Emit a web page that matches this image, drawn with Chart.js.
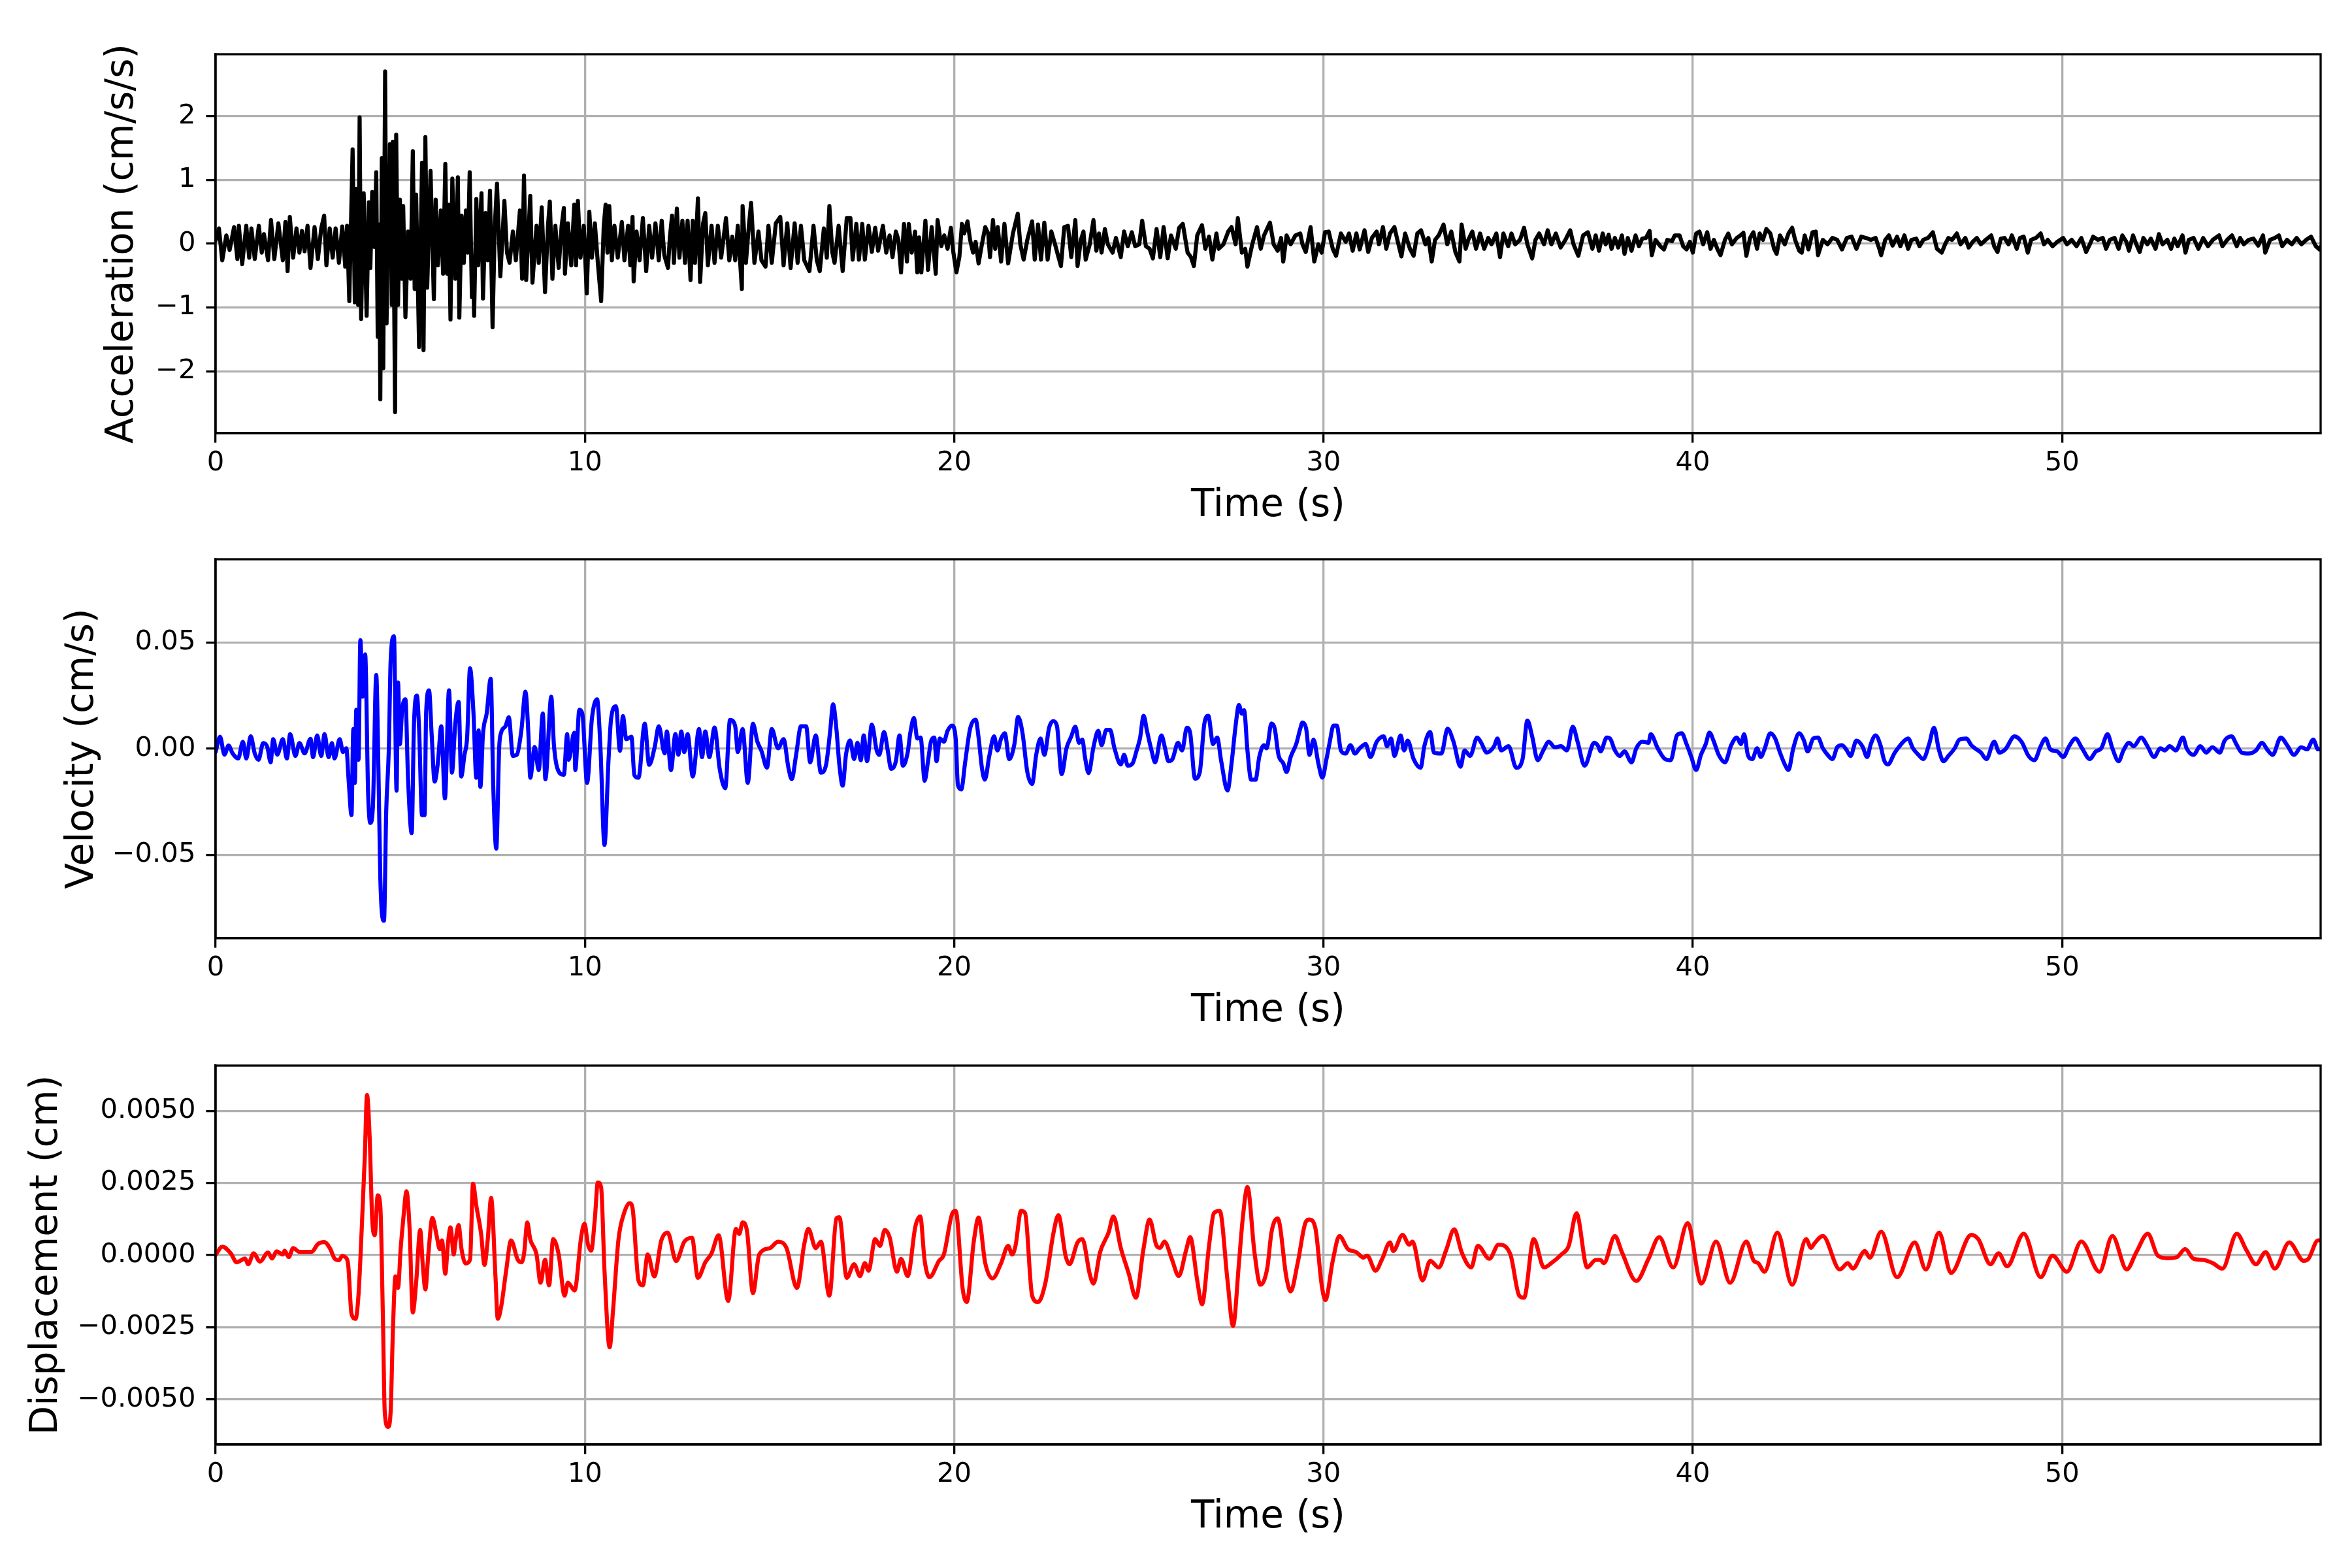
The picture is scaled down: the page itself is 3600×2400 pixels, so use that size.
<!DOCTYPE html>
<html>
<head>
<meta charset="utf-8">
<script src="https://cdn.jsdelivr.net/npm/chart.js@4.4.1/dist/chart.umd.min.js"></script>
<style>
  html, body { margin: 0; padding: 0; background: #fff; }
  body { width: 3600px; height: 2400px; position: relative; overflow: hidden; }
  canvas { position: absolute; left: 0; }
</style>
</head>
<body>
<canvas id="acc" width="3600" height="830" style="top:0px"></canvas>
<canvas id="vel" width="3600" height="830" style="top:773px"></canvas>
<canvas id="disp" width="3600" height="830" style="top:1548px"></canvas>
<script>
// --- DATA ([time s, value]) ---

const TIME_MAX = 57;
const TIME_STEP = 10;

// acceleration, cm/s/s
const accelerationTrace = [
  [0.00,0.05],[0.09,0.24],[0.18,-0.26],[0.29,0.13],[0.38,-0.10],[0.50,0.26],[0.59,-0.24],[0.63,0.28],[0.72,-0.32],[0.83,0.28],
  [0.91,-0.22],[0.97,0.24],[1.06,-0.24],[1.17,0.28],[1.25,-0.14],[1.31,0.15],[1.42,-0.26],[1.50,0.37],[1.59,-0.24],[1.70,0.32],
  [1.82,-0.26],[1.89,0.34],[1.95,-0.43],[2.01,0.42],[2.10,-0.22],[2.19,0.24],[2.27,-0.14],[2.34,0.20],[2.41,-0.12],[2.49,0.28],
  [2.57,-0.38],[2.68,0.26],[2.77,-0.24],[2.86,0.24],[2.94,0.44],[3.00,-0.34],[3.09,0.24],[3.17,-0.22],[3.25,0.24],[3.34,-0.30],
  [3.43,0.27],[3.51,-0.36],[3.56,0.28],[3.62,-0.90],[3.71,1.48],[3.77,-0.92],[3.81,0.86],[3.86,-0.96],[3.90,1.98],[3.94,-1.18],
  [4.01,0.79],[4.09,-1.13],[4.15,0.65],[4.19,-0.38],[4.24,0.81],[4.30,-0.05],[4.35,1.12],[4.39,-1.46],[4.43,0.30],[4.46,-2.44],
  [4.50,1.34],[4.54,-1.95],[4.59,2.70],[4.63,-1.25],[4.68,1.21],[4.70,0.20],[4.72,1.56],[4.77,-0.96],[4.80,1.60],[4.86,-2.64],
  [4.89,1.71],[4.94,-0.96],[4.99,0.69],[5.04,-0.55],[5.08,0.59],[5.14,-1.15],[5.21,0.19],[5.28,-0.55],[5.34,1.45],[5.39,-0.71],
  [5.43,0.77],[5.51,-1.62],[5.56,0.28],[5.59,1.27],[5.63,-1.67],[5.68,1.67],[5.73,-0.69],[5.82,1.14],[5.91,-0.87],[5.96,0.69],
  [6.02,-0.34],[6.10,0.52],[6.16,-0.47],[6.22,1.25],[6.27,-0.47],[6.31,0.61],[6.36,-1.19],[6.41,1.02],[6.49,-0.55],[6.56,1.04],
  [6.60,-1.16],[6.66,0.44],[6.72,-0.30],[6.78,0.52],[6.83,-0.14],[6.88,1.12],[6.94,-0.84],[6.97,-0.20],[7.00,-1.13],[7.06,0.70],
  [7.11,-0.34],[7.20,0.79],[7.24,-0.86],[7.31,0.48],[7.37,-0.26],[7.43,0.83],[7.50,-1.31],[7.56,0.28],[7.62,0.94],[7.71,-0.51],
  [7.82,0.67],[7.89,-0.14],[7.96,-0.30],[8.05,0.19],[8.13,-0.26],[8.24,0.52],[8.30,-0.55],[8.35,1.07],[8.41,-0.57],[8.52,0.75],
  [8.58,-0.61],[8.69,0.28],[8.75,-0.30],[8.83,0.57],[8.92,-0.76],[9.00,0.28],[9.05,0.66],[9.12,-0.55],[9.20,0.28],[9.29,-0.38],
  [9.37,0.28],[9.43,0.56],[9.46,-0.47],[9.54,0.32],[9.63,-0.34],[9.71,0.61],[9.76,-0.34],[9.81,0.67],[9.88,-0.22],[9.97,0.28],
  [10.05,-0.78],[10.12,0.50],[10.19,-0.22],[10.27,0.32],[10.35,-0.30],[10.44,-0.90],[10.51,0.28],[10.56,0.61],[10.61,-0.14],[10.66,0.59],
  [10.73,-0.26],[10.80,0.28],[10.89,-0.22],[11.00,0.34],[11.07,-0.26],[11.17,0.28],[11.23,-0.34],[11.29,0.42],[11.32,-0.59],[11.40,0.19],
  [11.48,-0.26],[11.57,0.40],[11.66,-0.43],[11.74,0.28],[11.82,-0.22],[11.91,0.32],[12.00,-0.26],[12.08,0.36],[12.15,-0.18],[12.25,-0.38],
  [12.30,0.10],[12.36,0.44],[12.41,-0.30],[12.49,0.55],[12.56,-0.22],[12.64,0.36],[12.71,-0.30],[12.78,0.36],[12.86,-0.57],[12.92,0.36],
  [12.98,-0.30],[13.06,0.71],[13.12,-0.60],[13.20,0.32],[13.26,0.48],[13.33,-0.34],[13.43,0.28],[13.51,-0.30],[13.60,0.28],[13.69,-0.22],
  [13.82,0.40],[13.91,-0.26],[13.99,0.11],[14.07,-0.26],[14.14,0.28],[14.25,-0.71],[14.27,0.59],[14.36,-0.30],[14.44,0.28],[14.50,0.64],
  [14.59,-0.30],[14.70,0.19],[14.78,-0.26],[14.89,-0.36],[14.97,0.28],[15.06,-0.30],[15.17,0.32],[15.29,0.42],[15.38,-0.34],[15.48,0.32],
  [15.57,-0.38],[15.68,0.32],[15.76,-0.30],[15.85,0.28],[15.94,-0.26],[16.08,-0.43],[16.19,0.28],[16.28,-0.26],[16.36,-0.43],[16.47,0.24],
  [16.55,-0.22],[16.62,0.59],[16.70,-0.14],[16.76,-0.30],[16.87,0.28],[16.98,-0.43],[17.09,0.40],
  [17.19,0.40],[17.25,-0.25],[17.35,0.31],[17.42,-0.25],[17.51,0.31],[17.58,-0.25],[17.68,0.28],[17.77,-0.13],[17.86,0.25],[17.94,-0.11],
  [18.07,0.28],[18.16,-0.14],[18.25,0.13],[18.33,-0.21],[18.42,0.19],[18.49,0.06],[18.56,-0.45],[18.64,0.31],[18.72,-0.28],[18.77,0.31],
  [18.85,-0.14],[18.94,0.19],[19.00,-0.45],[19.05,0.10],[19.11,-0.45],[19.22,0.36],[19.29,-0.41],[19.39,0.26],[19.50,-0.47],[19.55,0.37],
  [19.65,-0.04],[19.73,0.13],[19.82,-0.08],[19.91,0.25],[19.97,-0.11],
  [20.06,-0.45],[20.14,-0.21],[20.21,0.31],[20.27,0.16],[20.36,0.35],[20.43,0.06],[20.51,-0.14],[20.58,0.03],[20.66,-0.31],[20.75,-0.01],
  [20.84,0.26],[20.92,0.16],[20.97,-0.21],[21.05,0.37],[21.11,-0.08],[21.18,0.26],[21.27,-0.28],[21.36,0.31],[21.46,-0.31],[21.59,0.16],
  [21.72,0.47],[21.79,-0.01],[21.88,-0.25],[21.98,0.06],[22.11,0.35],[22.18,-0.25],[22.27,0.30],[22.35,-0.25],[22.44,0.33],[22.53,-0.25],
  [22.63,0.19],[22.73,-0.01],[22.79,-0.14],[22.89,-0.35],[22.98,0.26],[23.08,0.28],[23.17,-0.21],[23.28,0.37],[23.34,-0.35],[23.43,0.06],
  [23.50,0.19],[23.56,-0.25],[23.67,-0.01],[23.77,0.37],[23.85,-0.11],[23.92,0.16],[23.99,-0.14],[24.08,0.23],[24.16,-0.01],[24.29,-0.14],
  [24.38,0.09],[24.51,-0.21],[24.60,0.19],[24.70,-0.04],[24.81,0.18],[24.90,-0.04],[25.01,-0.01],[25.09,0.36],[25.19,-0.04],[25.29,-0.08],
  [25.38,-0.23],[25.48,0.23],[25.58,-0.21],[25.67,0.26],[25.78,-0.23],[25.87,0.13],[26.00,-0.08],[26.09,0.25],[26.19,0.31],[26.32,-0.14],
  [26.41,-0.21],[26.49,-0.35],[26.58,0.13],[26.71,0.29],[26.80,-0.08],[26.90,0.11],[26.99,-0.25],[27.10,0.16],[27.16,-0.08],[27.29,-0.01],
  [27.42,0.19],[27.51,0.26],[27.62,-0.01],[27.68,0.40],[27.79,-0.14],[27.88,-0.08],[27.94,-0.36],[28.07,-0.01],[28.20,0.26],[28.30,-0.08],
  [28.39,0.13],[28.55,0.33],[28.65,-0.01],[28.76,-0.11],[28.85,0.09],[28.91,-0.28],[29.00,0.13],[29.11,-0.01],[29.24,0.13],[29.37,0.16],
  [29.43,-0.01],[29.52,-0.13],[29.65,0.26],[29.75,-0.28],[29.86,-0.01],[29.95,-0.14],[30.04,0.18],[30.14,0.19],[30.25,-0.08],[30.34,-0.19],
  [30.47,0.16],[30.60,0.03],[30.69,0.16],[30.79,-0.11],[30.89,0.16],[30.98,-0.09],[31.11,0.21],[31.21,-0.13],[31.31,0.09],[31.44,0.19],
  [31.50,-0.01],[31.61,0.26],[31.70,-0.08],[31.80,0.16],[31.92,0.26],[32.02,0.01],[32.11,-0.20],[32.21,0.16],[32.34,-0.08],[32.44,-0.19],
  [32.54,0.16],[32.64,0.21],[32.76,-0.01],[32.84,0.09],[32.93,-0.28],[33.02,0.06],[33.12,0.13],[33.25,0.30],[33.35,-0.01],[33.46,0.19],
  [33.57,-0.13],[33.68,-0.28],[33.74,0.30],[33.85,-0.08],[33.92,0.06],[34.03,0.19],[34.13,-0.08],[34.24,0.16],[34.35,-0.08],[34.46,0.09],
  [34.55,-0.01],[34.68,0.16],[34.78,-0.21],[34.87,0.16],[35.00,-0.04],[35.09,0.16],[35.19,-0.01],[35.32,0.06],[35.43,0.25],[35.52,-0.01],
  [35.65,-0.23],[35.74,0.06],[35.84,0.16],[35.97,-0.01],[36.07,0.21],[36.17,-0.01],[36.29,0.16],[36.42,-0.06],[36.55,0.06],[36.68,0.21],
  [36.77,-0.01],[36.90,-0.19],[37.03,0.13],[37.16,0.18],
  [37.28,-0.08],[37.37,0.13],[37.46,-0.11],[37.56,0.16],[37.64,-0.01],[37.72,0.14],[37.80,-0.08],[37.89,0.09],[37.98,-0.06],[38.08,0.13],
  [38.15,-0.16],[38.24,0.09],[38.34,-0.11],[38.45,0.13],[38.54,-0.04],[38.63,0.08],[38.73,0.09],[38.83,0.20],[38.89,-0.18],[38.99,0.06],
  [39.12,-0.04],[39.22,-0.09],[39.31,0.06],[39.44,0.04],[39.51,0.13],[39.64,0.13],[39.74,-0.04],[39.83,-0.09],[39.92,0.03],[40.00,-0.14],
  [40.09,0.16],[40.18,0.19],[40.28,-0.01],[40.39,0.18],[40.48,-0.08],[40.57,0.06],[40.67,-0.09],[40.75,-0.18],[40.87,0.06],[40.96,0.16],
  [41.06,-0.01],[41.19,0.09],[41.29,0.13],[41.37,0.17],[41.45,-0.19],[41.55,0.09],[41.64,0.18],[41.74,-0.08],[41.81,0.16],[41.90,0.06],
  [41.99,0.23],[42.10,0.16],[42.20,-0.08],[42.27,-0.16],[42.36,0.13],[42.49,-0.01],[42.59,0.16],[42.69,0.25],[42.77,0.06],[42.88,-0.11],
  [42.95,-0.14],[43.03,0.13],[43.13,-0.09],[43.24,0.18],[43.33,0.19],[43.39,-0.18],[43.52,0.06],[43.65,-0.01],[43.78,0.09],[43.91,0.06],
  [44.04,-0.09],[44.17,0.09],[44.30,0.11],[44.43,-0.08],[44.56,0.11],[44.69,0.09],[44.82,0.06],[44.95,0.09],[45.05,-0.08],[45.10,-0.18],
  [45.21,0.06],[45.31,0.13],[45.41,-0.03],[45.53,0.11],[45.62,-0.04],[45.73,0.13],[45.83,-0.08],[45.92,0.06],[46.05,0.08],[46.14,-0.04],
  [46.24,0.06],[46.37,0.09],[46.50,0.18],[46.61,-0.08],[46.74,-0.14],[46.83,-0.01],[46.92,0.09],[47.02,0.06],[47.15,0.16],[47.25,-0.01],
  [47.38,0.09],[47.47,-0.06],[47.58,0.03],[47.69,0.09],[47.80,-0.01],[47.93,0.06],[48.08,0.13],[48.16,-0.04],[48.25,-0.13],[48.34,0.08],
  [48.44,0.09],[48.55,-0.01],[48.64,0.13],[48.77,-0.08],[48.86,0.09],[48.96,0.11],[49.07,-0.14],[49.16,0.06],[49.29,0.09],[49.42,0.16],
  [49.51,-0.01],[49.61,0.06],[49.74,-0.04],[49.87,0.03],[50.03,0.09],[50.13,-0.01],[50.26,0.06],[50.39,-0.04],[50.52,0.09],[50.65,-0.13],
  [50.75,-0.01],[50.84,0.11],[50.97,0.06],[51.10,0.09],[51.19,-0.08],[51.29,0.06],[51.42,0.09],[51.53,-0.08],[51.63,0.13],[51.74,0.03],
  [51.81,-0.11],[51.92,0.13],[52.01,-0.01],[52.10,-0.13],[52.20,0.09],[52.31,-0.01],[52.40,0.08],[52.53,-0.08],[52.62,0.15],[52.72,-0.01],
  [52.85,0.06],[52.95,-0.08],[53.04,0.08],[53.13,-0.04],[53.26,0.13],[53.34,-0.14],[53.43,0.06],[53.56,0.09],[53.69,-0.08],[53.82,0.09],
  [53.95,-0.04],[54.08,0.06],[54.25,0.13],[54.34,-0.04],[54.47,0.06],[54.60,0.13],[54.73,-0.04],[54.82,0.09],[54.92,-0.01],[55.05,0.06],
  [55.18,0.08],[55.31,-0.03],[55.44,0.13],[55.50,-0.14],[55.63,0.06],[55.76,0.09],[55.87,0.13],[55.96,-0.04],[56.09,0.06],[56.22,-0.01],
  [56.35,0.09],[56.48,-0.01],[56.61,0.06],[56.74,0.11],[56.87,-0.04],[56.97,-0.09],[57.00,-0.05]
];

// velocity, cm/s
const velocityTrace = [
  [0.00,-0.0016],[0.12,0.0057],[0.24,-0.0028],[0.35,0.0015],[0.46,-0.0022],[0.61,-0.0046],[0.74,0.0033],[0.83,-0.0046],[0.95,0.0059],[1.06,-0.0022],
  [1.16,-0.0052],[1.29,0.0027],[1.40,0.0008],[1.49,-0.0064],[1.56,0.0045],[1.67,-0.0028],[1.82,0.0045],[1.93,-0.0046],[2.02,0.0069],[2.16,-0.0034],
  [2.27,0.0027],[2.41,-0.0022],[2.57,0.0047],[2.64,-0.0040],[2.75,0.0063],[2.86,-0.0034],[2.95,0.0069],[3.06,-0.0040],[3.15,0.0027],[3.22,-0.0046],
  [3.36,0.0045],[3.45,-0.0016],[3.54,0.0002],[3.60,-0.0143],[3.68,-0.0313],[3.73,0.0093],[3.77,-0.0161],[3.81,0.0184],[3.87,-0.0052],[3.92,0.0512],
  [3.98,0.0245],[4.05,0.0445],[4.13,-0.0210],[4.19,-0.0350],[4.26,-0.0271],[4.35,0.0348],[4.41,-0.0101],[4.46,-0.0610],[4.56,-0.0811],[4.62,-0.0295],
  [4.69,-0.0004],[4.74,0.0415],[4.83,0.0530],[4.90,-0.0198],[4.94,0.0312],[4.99,0.0021],[5.05,0.0178],[5.14,0.0233],[5.21,-0.0137],[5.31,-0.0398],
  [5.37,0.0106],[5.45,0.0251],[5.51,0.0093],[5.59,-0.0313],[5.66,-0.0313],[5.70,0.0166],[5.78,0.0275],[5.85,0.0069],[5.93,-0.0155],[6.02,-0.0064],
  [6.11,0.0106],[6.21,-0.0234],[6.32,0.0275],[6.40,-0.0113],[6.49,0.0118],[6.58,0.0221],[6.65,-0.0131],[6.74,-0.0028],[6.81,0.0051],[6.89,0.0379],
  [6.98,0.0178],[7.06,-0.0137],[7.12,0.0087],[7.17,-0.0180],[7.24,0.0069],[7.34,0.0166],[7.45,0.0330],[7.52,-0.0186],[7.60,-0.0471],[7.68,0.0008],
  [7.73,0.0075],[7.85,0.0106],[7.94,0.0148],[8.05,-0.0034],[8.16,-0.0028],[8.28,0.0087],[8.39,0.0269],[8.47,0.0069],[8.52,-0.0137],[8.64,0.0008],
  [8.75,-0.0101],[8.86,0.0166],[8.93,-0.0143],[9.09,0.0245],[9.16,0.0021],[9.26,-0.0095],[9.43,-0.0123],[9.52,0.0069],[9.56,-0.0052],[9.71,0.0075],
  [9.74,-0.0101],[9.85,0.0184],[9.93,0.0166],[10.06,-0.0161],[10.19,0.0142],[10.33,0.0233],[10.42,0.0008],[10.53,-0.0453],[10.64,-0.0052],[10.71,0.0142],
  [10.84,0.0200],[10.95,-0.0010],[11.03,0.0154],[11.12,0.0045],[11.26,0.0057],[11.34,-0.0125],[11.45,-0.0137],[11.62,0.0118],[11.74,-0.0076],[11.89,0.0008],
  [12.00,0.0106],[12.16,-0.0022],[12.22,0.0081],[12.33,-0.0101],[12.45,0.0069],[12.53,-0.0028],[12.61,0.0081],[12.69,-0.0016],[12.78,0.0069],[12.92,-0.0131],
  [13.09,0.0093],[13.17,-0.0040],[13.26,0.0081],[13.37,-0.0040],[13.51,0.0100],[13.65,-0.0095],[13.80,-0.0186],[13.93,0.0136],[14.07,0.0106],[14.14,-0.0016],
  [14.27,0.0093],[14.41,-0.0161],[14.55,0.0118],[14.67,0.0033],[14.78,-0.0010],[14.93,-0.0089],[15.06,0.0093],[15.23,0.0002],[15.38,0.0045],[15.51,-0.0089],
  [15.60,-0.0143],[15.72,-0.0028],[15.85,0.0106],[15.99,0.0106],[16.10,-0.0064],[16.25,0.0063],[16.39,-0.0113],[16.53,-0.0076],[16.64,0.0081],[16.72,0.0209],
  [16.81,0.0093],[16.89,-0.0076],[16.98,-0.0174],[17.07,-0.0028],[17.18,0.0039],
  [17.29,-0.0049],[17.38,0.0028],[17.47,-0.0054],[17.55,0.0063],[17.64,-0.0059],[17.77,0.0114],[17.90,-0.0008],[17.97,-0.0029],[18.10,0.0079],[18.20,-0.0008],
  [18.29,-0.0095],[18.42,-0.0059],[18.52,0.0063],[18.61,-0.0080],[18.74,-0.0018],[18.81,0.0073],[18.91,0.0145],[19.00,0.0048],[19.09,0.0053],[19.20,-0.0151],
  [19.29,-0.0059],[19.37,0.0033],[19.46,0.0053],[19.52,-0.0059],[19.61,0.0048],[19.72,0.0033],[19.82,0.0084],[19.94,0.0109],[20.04,0.0048],[20.10,-0.0171],
  [20.19,-0.0192],[20.30,-0.0059],[20.43,0.0094],[20.58,0.0137],[20.66,0.0053],[20.75,-0.0090],[20.83,-0.0146],[20.95,-0.0034],[21.08,0.0058],[21.17,-0.0008],
  [21.27,0.0048],[21.37,0.0073],[21.49,-0.0049],[21.63,0.0022],[21.73,0.0150],[21.85,0.0073],[21.98,-0.0110],[22.11,-0.0166],[22.22,-0.0029],[22.34,0.0048],
  [22.44,-0.0029],[22.57,0.0099],[22.68,0.0130],[22.78,0.0109],[22.91,-0.0120],[23.04,0.0002],[23.17,0.0058],[23.28,0.0104],[23.38,0.0028],[23.47,0.0043],
  [23.54,-0.0039],[23.64,-0.0115],[23.77,0.0007],[23.90,0.0084],[23.99,0.0017],[24.12,0.0089],[24.22,0.0089],[24.34,0.0002],[24.51,-0.0074],[24.60,-0.0029],
  [24.70,-0.0080],[24.83,-0.0069],[24.94,-0.0008],[25.03,0.0048],[25.13,0.0155],[25.22,0.0084],[25.35,-0.0013],[25.44,-0.0064],[25.61,0.0063],[25.71,0.0002],
  [25.80,-0.0059],[25.91,-0.0049],[26.06,0.0028],[26.17,-0.0008],[26.30,0.0099],[26.39,0.0073],[26.52,-0.0141],[26.65,-0.0110],[26.77,0.0114],[26.88,0.0155],
  [27.01,0.0022],[27.12,0.0053],[27.23,-0.0059],[27.40,-0.0197],[27.51,-0.0069],[27.62,0.0109],[27.71,0.0206],[27.79,0.0165],[27.85,0.0181],[27.94,-0.0008],
  [28.04,-0.0146],[28.16,-0.0146],[28.26,-0.0039],[28.39,0.0017],[28.46,0.0002],[28.59,0.0119],[28.68,0.0094],[28.78,-0.0029],[28.91,-0.0069],[29.00,-0.0110],
  [29.11,-0.0039],[29.26,0.0022],[29.37,0.0094],[29.43,0.0124],[29.53,0.0094],[29.62,-0.0029],[29.73,0.0043],[29.86,-0.0069],[29.97,-0.0136],[30.08,-0.0049],
  [30.17,0.0033],[30.27,0.0109],[30.36,0.0109],[30.47,-0.0008],[30.60,-0.0023],[30.73,0.0017],[30.85,-0.0023],[30.98,0.0002],[31.14,0.0022],[31.27,-0.0039],
  [31.44,0.0033],[31.63,0.0058],[31.72,0.0012],[31.83,0.0048],[31.92,-0.0034],[32.09,0.0063],[32.18,-0.0008],[32.28,0.0038],[32.44,-0.0049],[32.63,-0.0090],
  [32.73,0.0012],[32.89,0.0079],[32.99,-0.0018],[33.19,-0.0023],[33.36,0.0094],[33.52,0.0033],[33.71,-0.0085],[33.82,-0.0008],[33.97,-0.0034],[34.16,0.0053],
  [34.27,0.0028],[34.42,-0.0018],[34.62,0.0012],[34.71,0.0048],[34.81,-0.0008],[35.01,0.0012],[35.22,-0.0090],[35.39,-0.0049],[35.52,0.0133],[35.65,0.0058],
  [35.80,-0.0054],[35.95,-0.0008],[36.10,0.0033],[36.26,0.0007],[36.43,0.0012],[36.59,-0.0008],[36.75,0.0104],[36.88,0.0033],[37.07,-0.0080],
  [37.33,0.0028],[37.44,0.0012],[37.50,-0.0013],[37.67,0.0053],[37.76,0.0048],[37.89,-0.0008],[38.02,-0.0034],[38.15,-0.0013],[38.34,-0.0064],[38.47,0.0002],
  [38.63,0.0033],[38.80,0.0028],[38.86,0.0068],[39.05,0.0002],[39.25,-0.0049],[39.40,-0.0054],[39.57,0.0063],[39.70,0.0073],[39.83,0.0022],[39.96,-0.0039],
  [40.09,-0.0100],[40.22,-0.0029],[40.35,0.0022],[40.45,0.0076],[40.57,0.0033],[40.70,-0.0029],[40.87,-0.0064],[41.04,0.0017],[41.19,0.0053],[41.30,0.0022],
  [41.39,0.0068],[41.49,-0.0029],[41.61,-0.0049],[41.74,0.0002],[41.84,-0.0039],[41.94,-0.0003],[42.10,0.0073],[42.23,0.0048],[42.36,-0.0018],[42.49,-0.0074],
  [42.59,-0.0100],[42.72,0.0002],[42.88,0.0073],[43.01,0.0038],[43.11,-0.0013],[43.26,0.0048],[43.39,0.0053],[43.52,0.0002],[43.65,-0.0029],[43.78,-0.0049],
  [43.91,0.0007],[44.04,0.0017],[44.17,-0.0008],[44.27,-0.0034],[44.43,0.0038],[44.59,0.0012],[44.72,-0.0039],[44.82,0.0022],[44.95,0.0063],[45.08,0.0017],
  [45.18,-0.0054],[45.28,-0.0074],[45.47,-0.0018],[45.62,0.0017],[45.73,0.0038],[45.83,0.0048],[45.96,0.0002],[46.11,-0.0029],[46.24,-0.0049],[46.40,0.0022],
  [46.53,0.0099],[46.66,-0.0003],[46.79,-0.0059],[46.92,-0.0034],[47.09,0.0002],[47.22,0.0043],[47.41,0.0048],[47.54,0.0017],[47.64,0.0002],[47.80,-0.0018],
  [47.95,-0.0049],[48.16,0.0033],[48.30,-0.0018],[48.46,-0.0003],[48.71,0.0058],[48.90,0.0033],[49.09,-0.0034],[49.25,-0.0054],[49.42,0.0012],[49.55,0.0048],
  [49.68,-0.0003],[49.87,-0.0013],[50.03,-0.0039],[50.19,0.0012],[50.36,0.0048],[50.54,0.0002],[50.75,-0.0049],[50.91,-0.0013],[51.06,0.0002],[51.23,0.0068],
  [51.36,0.0002],[51.53,-0.0059],[51.66,-0.0008],[51.81,0.0028],[51.94,0.0012],[52.14,0.0053],[52.31,0.0012],[52.49,-0.0039],[52.66,0.0002],[52.78,-0.0008],
  [52.91,0.0012],[53.08,-0.0008],[53.27,0.0053],[53.37,0.0002],[53.56,-0.0029],[53.74,0.0012],[53.90,-0.0018],[54.07,0.0007],[54.27,-0.0018],[54.40,0.0038],
  [54.59,0.0058],[54.73,0.0017],[54.86,-0.0018],[55.05,-0.0023],[55.25,-0.0008],[55.41,0.0028],[55.57,-0.0008],[55.70,-0.0029],[55.92,0.0053],[56.09,0.0017],
  [56.28,-0.0029],[56.47,0.0007],[56.63,-0.0003],[56.80,0.0043],[56.93,-0.0003],[57.00,-0.0003]
];

// displacement, cm
const displacementTrace = [
  [0.00,0],[0.18,0.00029],[0.41,0.00006],[0.57,-0.00025],[0.80,-0.00012],[0.88,-0.00032],[1.03,0.00006],[1.20,-0.00023],[1.42,0.00009],[1.53,-0.00012],
  [1.65,0.00013],[1.82,0.00002],[1.87,0.00015],[1.98,-0.00007],[2.10,0.00024],[2.27,0.00011],[2.60,0.00011],[2.77,0.00038],[2.94,0.00045],[3.11,0.00020],
  [3.22,-0.00012],[3.34,-0.00018],[3.43,-0.00003],[3.51,-0.00007],[3.59,-0.00034],[3.68,-0.00204],[3.79,-0.00221],[3.87,-0.00137],[3.96,0.00100],[4.04,0.00341],
  [4.10,0.00555],[4.17,0.00413],[4.24,0.00127],[4.31,0.00069],[4.39,0.00207],[4.46,0.00171],[4.53,-0.00213],[4.58,-0.00543],[4.67,-0.00596],[4.74,-0.00543],
  [4.80,-0.00266],[4.87,-0.00074],[4.94,-0.00114],[5.01,0.00020],[5.08,0.00122],[5.17,0.00221],[5.25,0.00100],[5.34,-0.00199],[5.43,-0.00096],[5.54,0.00087],
  [5.61,-0.00034],[5.68,-0.00119],[5.76,0.00002],[5.87,0.00129],[5.99,0.00064],[6.07,0.00020],[6.13,0.00051],[6.22,-0.00065],[6.29,0.00038],[6.36,0.00096],
  [6.45,0.00002],[6.49,0.00042],[6.58,0.00104],[6.66,0.00020],[6.77,-0.00029],[6.89,-0.00016],[6.97,0.00247],[7.06,0.00171],[7.19,0.00073],[7.28,-0.00034],
  [7.37,0.00055],[7.46,0.00198],[7.58,-0.00079],[7.64,-0.00221],[7.73,-0.00181],[7.87,-0.00052],[8.00,0.00051],[8.18,-0.00016],[8.28,-0.00025],[8.35,0.00002],
  [8.44,0.00113],[8.52,0.00055],[8.69,0.00002],[8.80,-0.00096],[8.92,-0.00016],[9.03,-0.00105],[9.14,0.00055],[9.29,0.00002],[9.45,-0.00141],[9.54,-0.00096],
  [9.72,-0.00123],[9.90,0.00064],[9.99,0.00109],[10.08,0.00038],[10.17,0.00015],[10.27,0.00127],[10.35,0.00252],[10.44,0.00234],[10.53,-0.00052],[10.67,-0.00320],
  [10.76,-0.00195],[10.91,0.00055],[11.06,0.00145],[11.21,0.00180],[11.29,0.00163],[11.45,-0.00088],[11.57,-0.00105],[11.70,0.00002],[11.88,-0.00074],[12.07,0.00051],
  [12.24,0.00078],[12.47,-0.00021],[12.69,0.00046],[12.90,0.00060],[13.06,-0.00079],[13.26,-0.00025],[13.43,0.00006],[13.62,0.00069],[13.88,-0.00159],[14.09,0.00091],
  [14.18,0.00073],[14.27,0.00113],[14.39,0.00082],[14.55,-0.00132],[14.72,0.00002],[15.01,0.00024],[15.23,0.00046],[15.46,0.00024],[15.74,-0.00114],[15.94,0.00038],
  [16.05,0.00091],[16.25,0.00024],[16.39,0.00046],[16.62,-0.00141],[16.81,0.00127],[16.89,0.00131],[17.09,-0.00079],
  [17.29,-0.00032],[17.45,-0.00073],[17.58,-0.00028],[17.68,-0.00054],[17.86,0.00055],[17.99,0.00032],[18.12,0.00087],[18.25,0.00062],[18.45,-0.00058],[18.56,-0.00013],
  [18.74,-0.00073],[18.95,0.00100],[19.08,0.00134],[19.20,-0.00020],[19.33,-0.00077],[19.59,-0.00020],[19.72,0.00002],[19.95,0.00145],[20.04,0.00153],[20.23,-0.00118],
  [20.34,-0.00163],[20.53,0.00047],[20.66,0.00130],[20.84,-0.00028],[21.04,-0.00081],[21.27,-0.00028],[21.46,0.00032],[21.57,0.00002],[21.66,0.00032],[21.81,0.00153],
  [21.92,0.00145],[22.11,-0.00141],[22.27,-0.00163],[22.47,-0.00096],[22.69,0.00078],[22.82,0.00138],[23.02,-0.00005],[23.12,-0.00032],[23.34,0.00044],[23.47,0.00055],
  [23.67,-0.00066],[23.77,-0.00099],[23.95,0.00010],[24.18,0.00078],[24.31,0.00134],[24.51,0.00025],[24.73,-0.00066],[24.92,-0.00148],[25.12,0.00017],[25.29,0.00123],
  [25.48,0.00032],[25.58,0.00025],[25.69,0.00047],[25.89,-0.00013],[26.08,-0.00073],[26.28,0.00017],[26.39,0.00062],[26.58,-0.00088],[26.71,-0.00171],[26.90,0.00032],
  [27.03,0.00145],[27.19,0.00153],[27.40,-0.00088],[27.55,-0.00246],[27.71,-0.00028],[27.81,0.00123],[27.94,0.00236],[28.13,0.00010],[28.29,-0.00103],[28.48,-0.00043],
  [28.59,0.00078],[28.76,0.00127],[29.00,-0.00081],[29.11,-0.00126],[29.30,-0.00028],[29.52,0.00115],[29.62,0.00123],[29.78,0.00093],[29.95,-0.00103],[30.05,-0.00156],
  [30.25,-0.00020],[30.43,0.00066],[30.66,0.00021],[30.89,0.00010],[31.08,-0.00009],[31.18,-0.00002],[31.41,-0.00054],[31.59,-0.00013],[31.80,0.00044],[31.89,0.00014],
  [32.14,0.00070],[32.32,0.00036],[32.41,0.00047],[32.68,-0.00088],[32.89,-0.00020],[33.12,-0.00043],[33.32,0.00017],[33.54,0.00089],[33.74,0.00010],[34.00,-0.00043],
  [34.18,0.00032],[34.49,-0.00013],[34.74,0.00036],[35.06,0.00002],[35.30,-0.00141],[35.43,-0.00148],[35.69,0.00055],[35.97,-0.00043],[36.17,-0.00028],[36.44,0.00002],
  [36.64,0.00032],[36.85,0.00145],[37.14,-0.00043],[37.37,-0.00017],
  [37.50,-0.00017],[37.59,-0.00028],[37.89,0.00066],[38.08,0.00010],[38.47,-0.00090],[38.80,-0.00013],[39.09,0.00062],[39.47,-0.00043],[39.86,0.00111],[40.23,-0.00099],
  [40.63,0.00047],[41.01,-0.00096],[41.45,0.00047],[41.65,-0.00020],[41.77,-0.00028],[41.94,-0.00058],[42.29,0.00078],[42.69,-0.00103],[43.07,0.00055],[43.20,0.00025],
  [43.29,0.00040],[43.52,0.00066],[43.98,-0.00050],[44.20,-0.00028],[44.33,-0.00047],[44.66,0.00014],[44.79,-0.00009],[45.10,0.00081],[45.53,-0.00077],[46.01,0.00044],
  [46.31,-0.00050],[46.67,0.00078],[46.99,-0.00062],[47.54,0.00070],[47.73,0.00055],[48.06,-0.00032],[48.28,0.00006],[48.51,-0.00039],[48.96,0.00074],[49.42,-0.00077],
  [49.74,-0.00002],[50.13,-0.00058],[50.52,0.00047],[51.01,-0.00058],[51.36,0.00066],[51.75,-0.00050],[52.01,0.00010],[52.32,0.00074],[52.59,-0.00002],[52.85,-0.00011],
  [53.11,-0.00007],[53.33,0.00021],[53.56,-0.00013],[53.82,-0.00017],[54.08,-0.00028],[54.34,-0.00047],[54.73,0.00074],[54.99,0.00017],[55.25,-0.00032],[55.51,0.00010],
  [55.76,-0.00047],[56.15,0.00044],[56.54,-0.00020],[56.67,-0.00013],[56.93,0.00051],[57.00,0.00051]
];

// y limits are symmetric about zero on the record
const accelerationLimit = 2.97;
const velocityLimit = 0.0893;
const displacementLimit = 0.00657;

// --- CHART ---

const FONT = "'DejaVu Sans', 'Liberation Sans', sans-serif";
const LINE = 3.3; //     spines, grid and tick width (0.8 pt at 300 dpi)
const TICK_LEN = 14.6;

// draws the top and right spines as well (matplotlib box)
const frame = {
  id: "frame",
  afterDraw(chart) {
    const { ctx, chartArea: a } = chart;
    ctx.save();
    ctx.strokeStyle = "#000";
    ctx.lineWidth = LINE;
    ctx.strokeRect(a.left, a.top, a.right - a.left, a.bottom - a.top);
    ctx.restore();
  },
};

function tickText(value, step, decimals) {
  if (Math.abs(value) < step / 1000) value = 0;
  const s = Math.abs(value).toFixed(decimals);
  return value < 0 ? "\u2212" + s : s;
}

function makePanel(id, trace, color, label, limit, step, decimals, leftPad, smooth) {
  return new Chart(document.getElementById(id), {
    type: "line",
    data: {
      datasets: [
        {
          data: trace.map((p) => ({ x: p[0], y: p[1] })),
          borderColor: color,
          borderWidth: 6.2,
          borderJoinStyle: "round",
          borderCapStyle: "round",
          pointRadius: 0,
          fill: false,
          tension: 0,
          cubicInterpolationMode: smooth ? "monotone" : "default",
        },
      ],
    },
    options: {
      animation: false,
      responsive: false,
      devicePixelRatio: 1,
      layout: { padding: { top: 83, right: 48, bottom: 20, left: leftPad } },
      plugins: { legend: { display: false }, tooltip: { enabled: false } },
      scales: {
        x: {
          type: "linear",
          min: 0,
          max: TIME_MAX,
          ticks: {
            stepSize: TIME_STEP,
            includeBounds: false,
            color: "#000",
            padding: 7,
            maxRotation: 0,
            font: { family: FONT, size: 41.7 },
          },
          grid: { color: "#b0b0b0", lineWidth: LINE, tickColor: "#000", tickLength: TICK_LEN, tickWidth: LINE },
          border: { color: "#000", width: LINE },
          title: { display: true, text: "Time (s)", color: "#000", padding: 0, font: { family: FONT, size: 58 } },
          afterFit(scale) {
            scale.height = 147;
          },
        },
        y: {
          min: -limit,
          max: limit,
          ticks: {
            stepSize: step,
            includeBounds: false,
            color: "#000",
            padding: 16,
            font: { family: FONT, size: 41.7 },
            callback: (v) => tickText(v, step, decimals),
          },
          grid: { color: "#b0b0b0", lineWidth: LINE, tickColor: "#000", tickLength: TICK_LEN, tickWidth: LINE },
          border: { color: "#000", width: LINE },
          title: { display: true, text: label, color: "#000", padding: 0, font: { family: FONT, size: 58 } },
          afterFit(scale) {
            scale.width = 330 - leftPad;
          },
        },
      },
    },
    plugins: [frame],
  });
}

makePanel("acc", accelerationTrace, "#000000", "Acceleration (cm/s/s)", accelerationLimit, 1, 0, 153, false);
makePanel("vel", velocityTrace, "#0000ff", "Velocity (cm/s)", velocityLimit, 0.05, 2, 92, true);
makePanel("disp", displacementTrace, "#ff0000", "Displacement (cm)", displacementLimit, 0.0025, 4, 37, true);
</script>
</body>
</html>
